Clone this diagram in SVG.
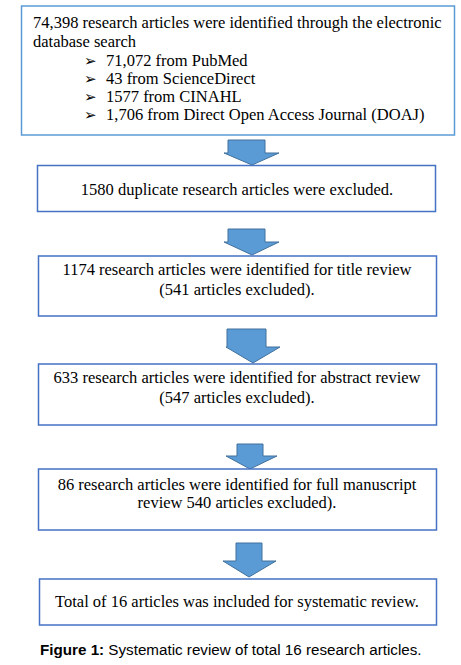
<svg xmlns="http://www.w3.org/2000/svg" width="461" height="665" viewBox="0 0 461 665">
<style>
.box{fill:#fff;stroke:#4472c4;stroke-width:1.5}
.box1{fill:#fff;stroke:#5b9bd5;stroke-width:1.5}
.t{font-family:"Liberation Serif","Times New Roman",serif;font-size:16.5px;fill:#000}
.c{text-anchor:middle}
.b{font-family:"DejaVu Sans",sans-serif;font-size:15px}
.arr{fill:#5b9bd5;stroke:#41719c;stroke-width:1}
.cap{font-family:"Liberation Sans",Arial,sans-serif;font-size:15.2px;fill:#000}
</style>
<rect width="461" height="665" fill="#fff"/>
<g id="connectors">
<polygon class="arr" points="228,140 265,140 265,153 279,153 252,165 224,153 228,153"/>
<polygon class="arr" points="228,229 265,229 265,242 279,242 252,255 224,242 228,242"/>
<polygon class="arr" points="227,329 266,329 266,347 280,347 253,363 226,347 227,347"/>
<polygon class="arr" points="237,444 263,444 263,456 277,456 250,469 226,456 237,456"/>
<polygon class="arr" points="236,543 262,543 262,561 276,561 249,577 223,561 236,561"/>
</g>
<g id="node1">
<rect class="box1" x="21.5" y="6" width="433" height="129"/>
<text class="t" x="33" y="28">74,398 research articles were identified through the electronic</text>
<text class="t" x="33" y="47">database search</text>
<text class="b" x="84" y="66">➢</text><text class="t" x="106" y="66">71,072 from PubMed</text>
<text class="b" x="84" y="84">➢</text><text class="t" x="106" y="84">43 from ScienceDirect</text>
<text class="b" x="84" y="102">➢</text><text class="t" x="106" y="102">1577 from CINAHL</text>
<text class="b" x="84" y="120">➢</text><text class="t" x="106" y="120">1,706 from Direct Open Access Journal (DOAJ)</text>
</g>
<g id="node2">
<rect class="box" x="37.5" y="165.5" width="398" height="46"/>
<text class="t c" x="237" y="195">1580 duplicate research articles were excluded.</text>
</g>
<g id="node3">
<rect class="box" x="38.5" y="256" width="398" height="60"/>
<text class="t c" x="237" y="275">1174 research articles were identified for title review</text>
<text class="t c" x="237" y="295">(541 articles excluded).</text>
</g>
<g id="node4">
<rect class="box" x="38.5" y="364" width="398" height="61"/>
<text class="t c" x="237" y="383">633 research articles were identified for abstract review</text>
<text class="t c" x="237" y="403">(547 articles excluded).</text>
</g>
<g id="node5">
<rect class="box" x="38.5" y="469" width="398" height="61"/>
<text class="t c" x="237" y="490">86 research articles were identified for full manuscript</text>
<text class="t c" x="237" y="508">review 540 articles excluded).</text>
</g>
<g id="node6">
<rect class="box" x="39.5" y="579" width="397" height="46"/>
<text class="t c" x="237" y="607">Total of 16 articles was included for systematic review.</text>
</g>
<text class="cap" x="40" y="655"><tspan font-weight="bold">Figure 1:</tspan> Systematic review of total 16 research articles.</text>
</svg>
